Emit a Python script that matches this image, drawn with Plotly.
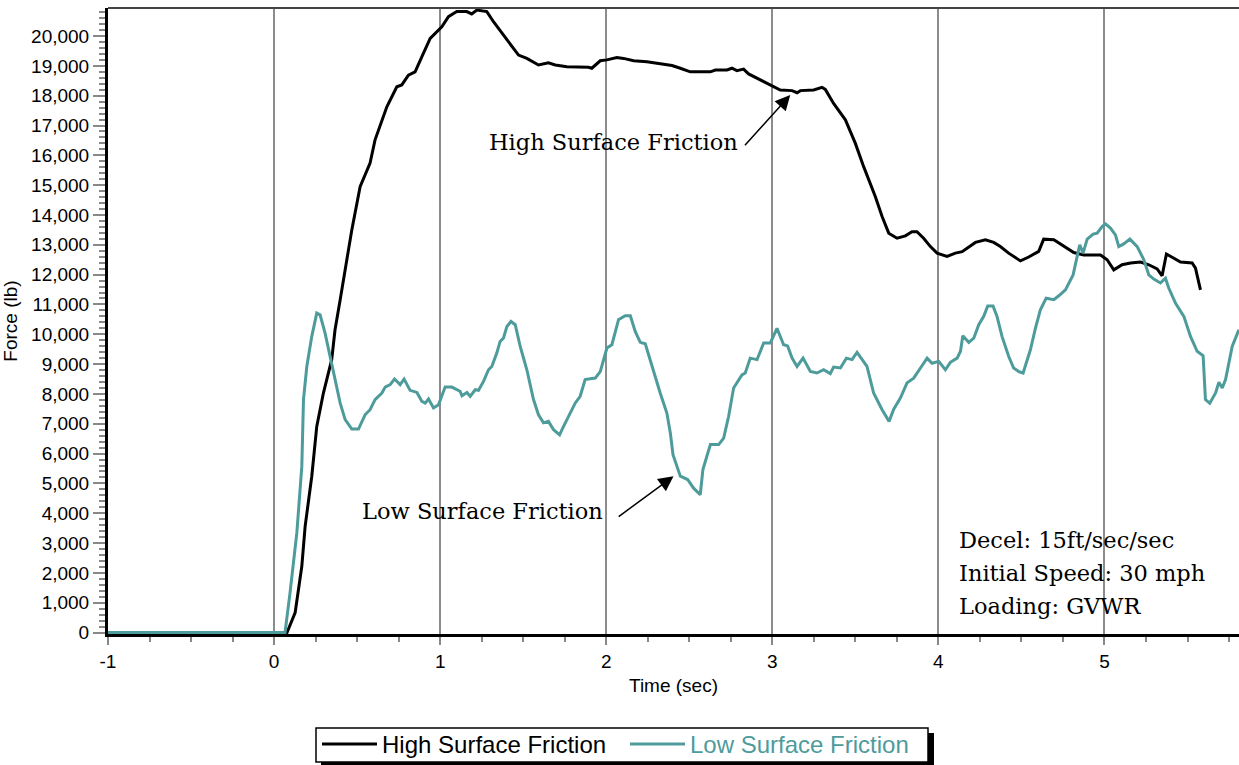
import plotly.graph_objects as go

# ---- data (time in s, force in lb) ----
high_time = [
    -1.0, 0.078, 0.127, 0.167, 0.187, 0.227, 0.257, 0.297, 0.347, 0.367,
    0.398, 0.438, 0.468, 0.518, 0.578, 0.608, 0.679, 0.739, 0.769, 0.809,
    0.849, 0.899, 0.940, 1.010, 1.050, 1.100, 1.160, 1.190, 1.221, 1.281,
    1.321, 1.411, 1.472, 1.522, 1.592, 1.652, 1.693, 1.763, 1.893, 1.913,
    1.964, 2.004, 2.064, 2.104, 2.165, 2.245, 2.315, 2.396, 2.446, 2.506,
    2.627, 2.657, 2.727, 2.757, 2.787, 2.827, 2.857, 2.928, 3.008, 3.048,
    3.119, 3.149, 3.169, 3.249, 3.299, 3.319, 3.369, 3.440, 3.500, 3.550,
    3.620, 3.661, 3.701, 3.751, 3.801, 3.841, 3.871, 3.911, 3.952, 3.992,
    4.052, 4.102, 4.143, 4.173, 4.223, 4.283, 4.333, 4.373, 4.423, 4.494,
    4.544, 4.604, 4.634, 4.695, 4.755, 4.815, 4.875, 4.976, 5.016, 5.056,
    5.106, 5.157, 5.217, 5.267, 5.317, 5.347, 5.373, 5.417, 5.458, 5.528,
    5.548, 5.578,
]
high_force = [
    0, 0, 670, 2220, 3560, 5240, 6910, 8030, 9150, 10150,
    11160, 12500, 13500, 14950, 15740, 16520, 17630, 18300, 18360, 18690,
    18800, 19420, 19920, 20310, 20650, 20820, 20820, 20740, 20870, 20820,
    20480, 19810, 19360, 19250, 19030, 19100, 19030, 18970, 18950, 18920,
    19170, 19200, 19280, 19250, 19170, 19140, 19090, 19010, 18920, 18800,
    18800, 18860, 18860, 18920, 18840, 18890, 18730, 18530, 18300, 18190,
    18170, 18100, 18170, 18190, 18280, 18210, 17740, 17190, 16400, 15620,
    14620, 13950, 13390, 13220, 13300, 13440, 13440, 13220, 12940, 12720,
    12610, 12720, 12770, 12890, 13080, 13170, 13080, 12940, 12720, 12460,
    12590, 12780, 13190, 13170, 12940, 12740, 12660, 12660, 12500, 12160,
    12330, 12390, 12420, 12330, 12190, 11960, 12690, 12550, 12420, 12390,
    12220, 11490,
]

low_time = [
    -1.0, 0.066, 0.096, 0.137, 0.167, 0.177, 0.197, 0.227, 0.257, 0.277,
    0.307, 0.337, 0.367, 0.398, 0.428, 0.468, 0.508, 0.548, 0.578, 0.608,
    0.649, 0.669, 0.699, 0.725, 0.759, 0.783, 0.819, 0.860, 0.890, 0.910,
    0.930, 0.960, 0.990, 1.030, 1.070, 1.120, 1.131, 1.161, 1.181, 1.211,
    1.231, 1.261, 1.291, 1.311, 1.341, 1.361, 1.381, 1.402, 1.426, 1.452,
    1.482, 1.522, 1.562, 1.592, 1.622, 1.652, 1.683, 1.719, 1.743, 1.783,
    1.813, 1.843, 1.873, 1.904, 1.934, 1.964, 2.004, 2.034, 2.074, 2.114,
    2.145, 2.175, 2.205, 2.235, 2.285, 2.325, 2.365, 2.386, 2.402, 2.446,
    2.490, 2.526, 2.566, 2.582, 2.627, 2.677, 2.707, 2.737, 2.767, 2.817,
    2.837, 2.867, 2.908, 2.948, 2.988, 3.028, 3.068, 3.092, 3.119, 3.149,
    3.185, 3.229, 3.269, 3.309, 3.349, 3.369, 3.410, 3.446, 3.480, 3.510,
    3.570, 3.610, 3.661, 3.703, 3.731, 3.771, 3.811, 3.851, 3.892, 3.932,
    3.962, 4.002, 4.042, 4.072, 4.113, 4.133, 4.147, 4.183, 4.213, 4.243,
    4.273, 4.297, 4.329, 4.353, 4.383, 4.423, 4.453, 4.484, 4.510, 4.554,
    4.584, 4.614, 4.649, 4.695, 4.725, 4.765, 4.811, 4.831, 4.851, 4.871,
    4.896, 4.932, 4.956, 4.986, 5.006, 5.036, 5.066, 5.086, 5.116, 5.153,
    5.197, 5.237, 5.267, 5.297, 5.337, 5.367, 5.387, 5.428, 5.478, 5.518,
    5.558, 5.594, 5.608, 5.634, 5.669, 5.689, 5.709, 5.729, 5.769, 5.809,
]
low_force = [
    0, 0, 1330, 3340, 5570, 7810, 8920, 9930, 10710, 10650,
    10040, 9260, 8480, 7690, 7140, 6820, 6820, 7300, 7470, 7810,
    8030, 8230, 8310, 8500, 8310, 8500, 8120, 8050, 7750, 7690,
    7830, 7530, 7640, 8230, 8230, 8090, 7940, 8050, 7920, 8140,
    8120, 8420, 8810, 8920, 9370, 9760, 9870, 10260, 10430, 10320,
    9590, 8810, 7810, 7300, 7030, 7080, 6800, 6630, 6910, 7360,
    7690, 7920, 8480, 8510, 8530, 8750, 9540, 9650, 10490, 10620,
    10620, 10090, 9730, 9680, 8750, 8030, 7360, 6690, 5960, 5240,
    5130, 4840, 4620, 5460, 6300, 6300, 6520, 7250, 8200, 8640,
    8700, 9200, 9150, 9710, 9710, 10200, 9650, 9610, 9200, 8920,
    9200, 8750, 8700, 8810, 8680, 8900, 8870, 9200, 9150, 9390,
    8920, 8030, 7470, 7080, 7490, 7860, 8370, 8530, 8870, 9200,
    9030, 9090, 8810, 9060, 9200, 9430, 9950, 9730, 9870, 10320,
    10600, 10950, 10950, 10600, 9930, 9260, 8870, 8750, 8700, 9480,
    10200, 10820, 11210, 11160, 11290, 11490, 11990, 12500, 13000, 12720,
    13190, 13360, 13390, 13610, 13700, 13560, 13330, 12940, 13030, 13190,
    12940, 12500, 11990, 11850, 11720, 11880, 11550, 11040, 10600, 9930,
    9430, 9280, 7810, 7690, 8030, 8390, 8200, 8480, 9590, 10150,
]

x_tick_values = [-1, 0, 1, 2, 3, 4, 5]
x_tick_labels = ["-1", "0", "1", "2", "3", "4", "5"]

series_names = ["High Surface Friction", "Low Surface Friction"]
info_lines = ["Decel: 15ft/sec/sec", "Initial Speed: 30 mph", "Loading: GVWR"]

BLACK = "#000000"
TEAL = "#4E9B9B"
SERIF = "DejaVu Serif"
SANS = "Liberation Sans, Arial, sans-serif"

# pixel -> paper helpers for decorations outside the plot area
PL, PW, PT, PH = 108, 1131, 8, 626


def px(x):
    return (x - PL) / PW


def py(y):
    return (PT + PH - y) / PH


fig = go.Figure()
fig.add_trace(go.Scatter(x=high_time, y=high_force, mode="lines",
                         name=series_names[0], legendwidth=238,
                         line=dict(color=BLACK, width=3)))
fig.add_trace(go.Scatter(x=low_time, y=low_force, mode="lines",
                         name="<span style='color:%s'>%s</span>" % (TEAL, series_names[1]),
                         legendwidth=235,
                         line=dict(color=TEAL, width=3)))

# annotation labels and arrows
fig.add_annotation(x=1.283, y=16450, xref="x", yref="y", text=series_names[0],
                   showarrow=False, xanchor="left", yanchor="middle",
                   font=dict(family=SERIF, size=22.5, color="black"))
fig.add_annotation(x=3.108, y=18020, ax=2.827, ay=16290, xref="x", yref="y",
                   axref="x", ayref="y", text="", showarrow=True,
                   arrowhead=2, arrowsize=2, arrowwidth=1.5, arrowcolor="black")
fig.add_annotation(x=0.518, y=4090, xref="x", yref="y", text=series_names[1],
                   showarrow=False, xanchor="left", yanchor="middle",
                   font=dict(family=SERIF, size=22.5, color="black"))
fig.add_annotation(x=2.405, y=5240, ax=2.066, ay=3850, xref="x", yref="y",
                   axref="x", ayref="y", text="", showarrow=True,
                   arrowhead=2, arrowsize=2, arrowwidth=1.5, arrowcolor="black")
for ln, yv in zip(info_lines, [3115, 2010, 905]):
    fig.add_annotation(x=4.114, y=yv, xref="x", yref="y", text=ln,
                       showarrow=False, xanchor="left", yanchor="middle",
                       font=dict(family=SERIF, size=22.5, color="black"))

# top border, legend frame and its drop shadow
fig.add_shape(type="line", xref="paper", yref="paper", x0=0, x1=1, y0=1, y1=1,
              line=dict(color="#444444", width=2))
fig.add_shape(type="rect", xref="paper", yref="paper",
              x0=px(321), x1=px(934), y0=py(733), y1=py(768),
              fillcolor="black", line=dict(width=0), layer="above")
fig.add_shape(type="rect", xref="paper", yref="paper",
              x0=px(316), x1=px(928), y0=py(728), y1=py(762),
              fillcolor="white", line=dict(color="black", width=1.5), layer="above")

fig.update_layout(
    width=1239, height=765,
    margin=dict(l=PL, r=0, t=PT, b=765 - PT - PH, autoexpand=False),
    paper_bgcolor="white", plot_bgcolor="white",
    font=dict(family=SANS, size=19, color="black"),
    showlegend=True,
    legend=dict(orientation="h", x=px(317), xanchor="left",
                y=py(722), yanchor="top",
                bgcolor="rgba(0,0,0,0)", borderwidth=0,
                font=dict(family=SANS, size=24, color="black"),
                itemwidth=55, tracegroupgap=0),
    xaxis=dict(range=[-1, 5.81], tickmode="array", tickvals=x_tick_values,
               ticktext=x_tick_labels, showgrid=True,
               gridcolor="#8C8C8C", gridwidth=2, zeroline=False,
               showline=True, linecolor="black", linewidth=3,
               ticks="outside", ticklen=8, tickcolor="#888888", tickwidth=1.5,
               minor=dict(dtick=0.25, tick0=0, ticks="outside", ticklen=5,
                          tickcolor="#888888", tickwidth=1.5, showgrid=False),
               title=dict(text="Time (sec)", font=dict(size=19), standoff=8),
               tickfont=dict(size=19)),
    yaxis=dict(range=[-50, 20940], dtick=1000, tick0=0, tickformat=",",
               showgrid=False, zeroline=False,
               showline=True, linecolor="black", linewidth=3,
               ticks="outside", ticklen=12, tickcolor="#888888", tickwidth=1.5,
               minor=dict(dtick=200, ticks="outside", ticklen=6,
                          tickcolor="#888888", tickwidth=1.5, showgrid=False),
               title=dict(text="Force (lb)", font=dict(size=19), standoff=12),
               tickfont=dict(size=19)),
)

fig.write_html("out.html")
